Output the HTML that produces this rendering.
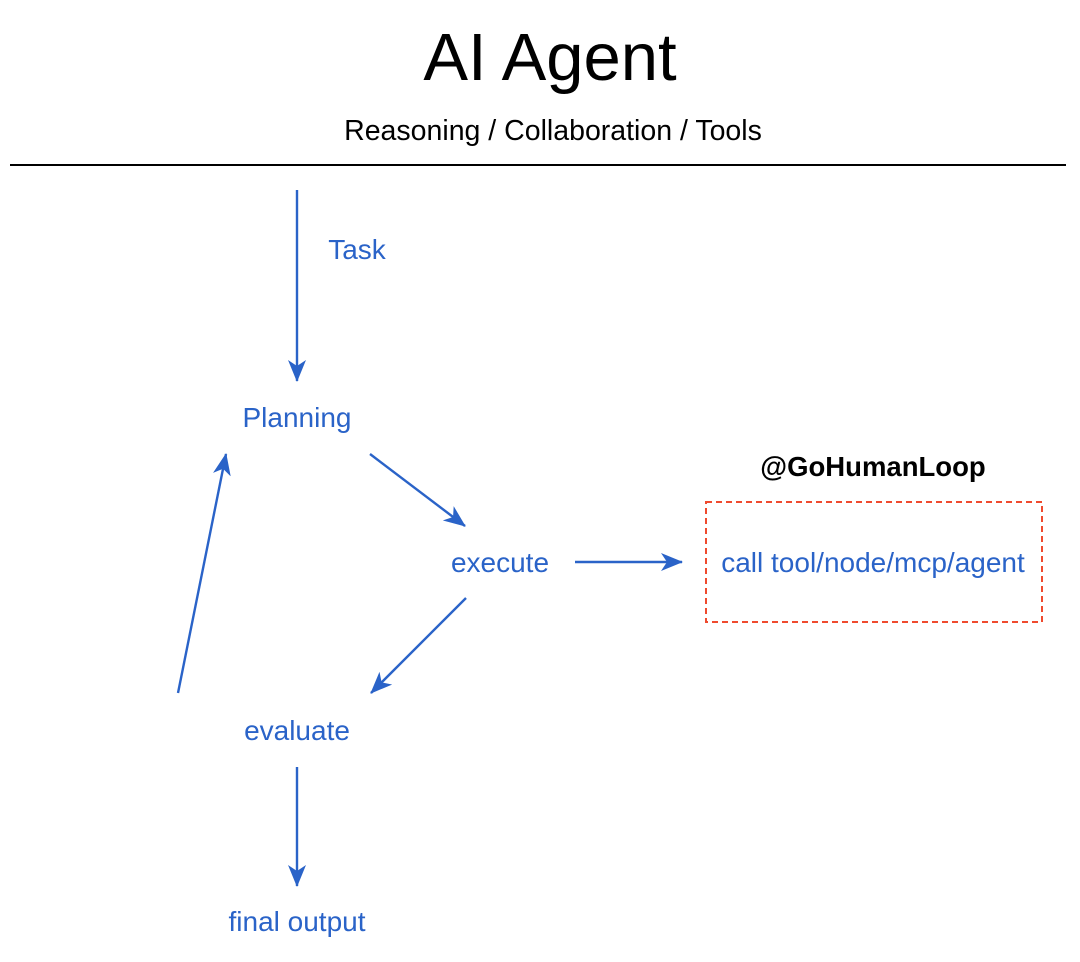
<!DOCTYPE html>
<html><head><meta charset="utf-8"><style>
html,body{margin:0;padding:0;background:#fff;}
svg{display:block;}
</style></head><body>
<svg width="1080" height="962" viewBox="0 0 1080 962" xmlns="http://www.w3.org/2000/svg" font-family="Liberation Sans, Arial, sans-serif">
<defs>
<marker id="a" viewBox="0 0 22 18" refX="21" refY="9" markerWidth="22" markerHeight="18" markerUnits="userSpaceOnUse" orient="auto">
<path d="M0,0 L22,9 L0,18 L6,9 Z" fill="#2a63c8"/>
</marker>
</defs>
<text x="550" y="80" font-size="67" text-anchor="middle" fill="#000">AI Agent</text>
<text x="553" y="140" font-size="28.5" text-anchor="middle" fill="#000">Reasoning / Collaboration / Tools</text>
<line x1="10" y1="165" x2="1066" y2="165" stroke="#000" stroke-width="2"/>
<g stroke="#2a63c8" stroke-width="2.4" fill="none" marker-end="url(#a)">
<line x1="297" y1="190" x2="297" y2="381"/>
<line x1="370" y1="454" x2="465" y2="526"/>
<line x1="575" y1="562" x2="682" y2="562"/>
<line x1="466" y1="598" x2="371" y2="693"/>
<line x1="297" y1="767" x2="297" y2="886"/>
<line x1="178" y1="693" x2="226" y2="454"/>
</g>
<g fill="#2a63c8" font-size="28" text-anchor="middle">
<text x="357" y="259">Task</text>
<text x="297" y="427">Planning</text>
<text x="500" y="572">execute</text>
<text x="873" y="572">call tool/node/mcp/agent</text>
<text x="297" y="740">evaluate</text>
<text x="297" y="931">final output</text>
</g>
<rect x="706" y="502" width="336" height="120" fill="none" stroke="#ef4a2e" stroke-width="2" stroke-dasharray="6,4"/>
<text x="873" y="476" font-size="27.5" font-weight="bold" text-anchor="middle" fill="#000">@GoHumanLoop</text>
</svg>
</body></html>
